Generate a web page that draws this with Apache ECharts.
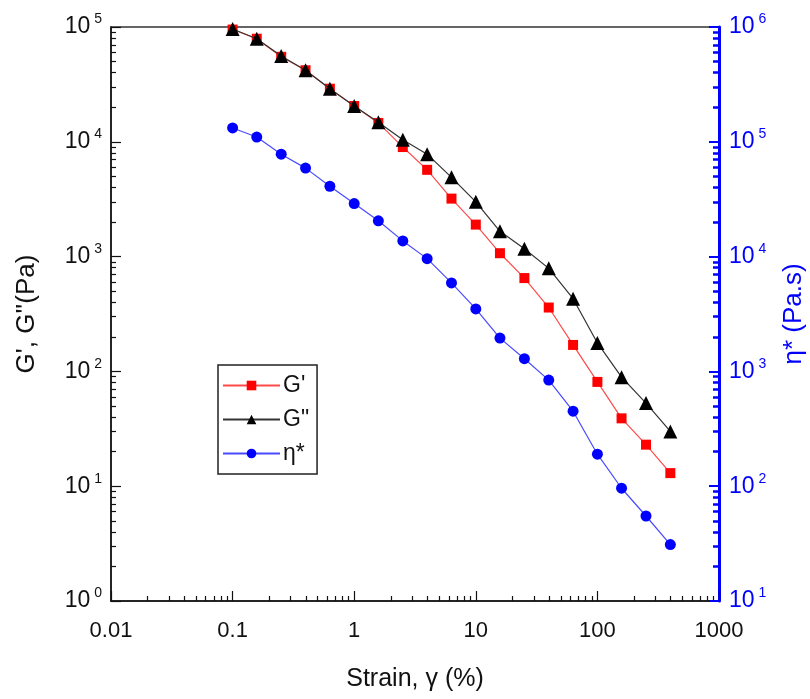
<!DOCTYPE html>
<html><head><meta charset="utf-8">
<script src="https://cdn.jsdelivr.net/npm/echarts@6/dist/echarts.min.js"></script>
<style>html,body{margin:0;padding:0;background:#fff}#c{width:810px;height:699px}</style>
</head><body><div id="c"></div>
<script>
const strain  = [0.1, 0.158, 0.251, 0.398, 0.631, 1, 1.58, 2.51, 3.98, 6.31, 10, 15.8, 25.1, 39.8, 63.1, 100, 158, 251, 398];
const gPrime  = [95000, 79000, 55000, 42000, 29000, 20500, 14600, 9000, 5700, 3200, 1900, 1070, 650, 360, 170, 81, 39, 23, 13];
const gDouble = [96000, 79000, 56000, 42000, 29000, 20500, 14800, 10400, 7800, 4900, 3000, 1660, 1170, 790, 430, 177, 89, 53, 30];
const eta     = [132000, 110000, 78000, 59000, 41000, 29000, 20500, 13700, 9600, 5900, 3500, 1950, 1290, 840, 450, 190, 96, 55, 31];
const xTickLabels = ['0.01', '0.1', '1', '10', '100', '1000'];
const yLeftExps = ['0', '1', '2', '3', '4', '5'];
const yRightExps = ['1', '2', '3', '4', '5', '6'];
const seriesNames = ["G'", 'G"', 'η*'];

const FONT = 'Liberation Sans, Arial, sans-serif';
const BLUE = '#0000ff';
function expLabel(v, exps, lo) {
  const k = Math.round(Math.log10(v)) - lo;
  return '{b|10}{s|' + exps[k] + '}';
}
function richFor(color) {
  return {
    b: { fontSize: 23, fontFamily: FONT, color: color },
    s: { fontSize: 14, fontFamily: FONT, color: color, padding: [0, 0, 15, 4] }
  };
}
const chart = echarts.init(document.getElementById('c'));
chart.setOption({
  animation: false,
  backgroundColor: '#fff',
  grid: { left: 111, right: 91, top: 27, bottom: 98, outerBoundsMode: 'none', containLabel: false,
          show: true, borderColor: '#333', borderWidth: 1.5, backgroundColor: 'transparent' },
  legend: {
    left: 218, top: 365, orient: 'vertical',
    itemWidth: 57, itemHeight: 12, itemGap: 11,
    padding: [9, 8, 9, 4],
    borderColor: '#222', borderWidth: 1.5,
    textStyle: { fontSize: 23, fontFamily: FONT, color: '#111', padding: [0, 0, 0, -2] },
    data: seriesNames
  },
  xAxis: {
    type: 'log', logBase: 10, min: 0.01, max: 1000,
    name: 'Strain, γ (%)', nameLocation: 'middle', nameGap: 66,
    nameTextStyle: { fontSize: 25, fontFamily: FONT, color: '#111' },
    axisLine: { lineStyle: { color: '#111', width: 1.5 } },
    axisTick: { inside: true, length: 10, lineStyle: { color: '#111', width: 1.2 } },
    minorTick: { show: true, splitNumber: 9, length: 5, lineStyle: { color: '#111', width: 1.2 } },
    splitLine: { show: false }, minorSplitLine: { show: false },
    axisLabel: {
      fontSize: 22, fontFamily: FONT, color: '#111', margin: 19, showMinLabel: true, showMaxLabel: true,
      formatter: v => xTickLabels[Math.round(Math.log10(v)) + 2]
    }
  },
  yAxis: [{
    type: 'log', logBase: 10, min: 1, max: 100000, position: 'left',
    name: "G', G''(Pa)", nameLocation: 'middle', nameGap: 71, nameRotate: 90,
    nameTextStyle: { fontSize: 26, fontFamily: FONT, color: '#111' },
    axisLine: { lineStyle: { color: '#111', width: 1.5 } },
    axisTick: { inside: true, length: 10, lineStyle: { color: '#111', width: 1.2 } },
    minorTick: { show: true, splitNumber: 9, length: 5, lineStyle: { color: '#111', width: 1.2 } },
    splitLine: { show: false }, minorSplitLine: { show: false },
    axisLabel: { margin: 9, showMinLabel: true, showMaxLabel: true, formatter: v => expLabel(v, yLeftExps, 0), rich: richFor('#111') }
  }, {
    type: 'log', logBase: 10, min: 10, max: 1000000, position: 'right',
    name: 'η* (Pa.s)', nameLocation: 'middle', nameGap: 62, nameRotate: 90,
    nameTextStyle: { fontSize: 26, fontFamily: FONT, color: BLUE },
    axisLine: { lineStyle: { color: BLUE, width: 3 } },
    axisTick: { inside: true, length: 10, lineStyle: { color: BLUE, width: 2 } },
    minorTick: { show: true, splitNumber: 9, length: 6, lineStyle: { color: BLUE, width: 2.5 } },
    splitLine: { show: false }, minorSplitLine: { show: false },
    axisLabel: { margin: 10, showMinLabel: true, showMaxLabel: true, formatter: v => expLabel(v, yRightExps, 1), rich: richFor(BLUE) }
  }],
  series: [{
    name: seriesNames[0], type: 'line', yAxisIndex: 0,
    data: strain.map((x, i) => [x, gPrime[i]]),
    symbol: 'rect', symbolSize: 10,
    itemStyle: { color: '#ff0000' },
    lineStyle: { color: '#ff4a4a', width: 1.2 }, z: 2
  }, {
    name: seriesNames[1], type: 'line', yAxisIndex: 0,
    data: strain.map((x, i) => [x, gDouble[i]]),
    symbol: 'triangle', symbolSize: 14,
    itemStyle: { color: '#000' },
    lineStyle: { color: '#333', width: 1.2 }, z: 3
  }, {
    name: seriesNames[2], type: 'line', yAxisIndex: 1,
    data: strain.map((x, i) => [x, eta[i]]),
    symbol: 'circle', symbolSize: 11,
    itemStyle: { color: BLUE },
    lineStyle: { color: '#4a4aff', width: 1.2 }, z: 2
  }]
});
</script></body></html>
